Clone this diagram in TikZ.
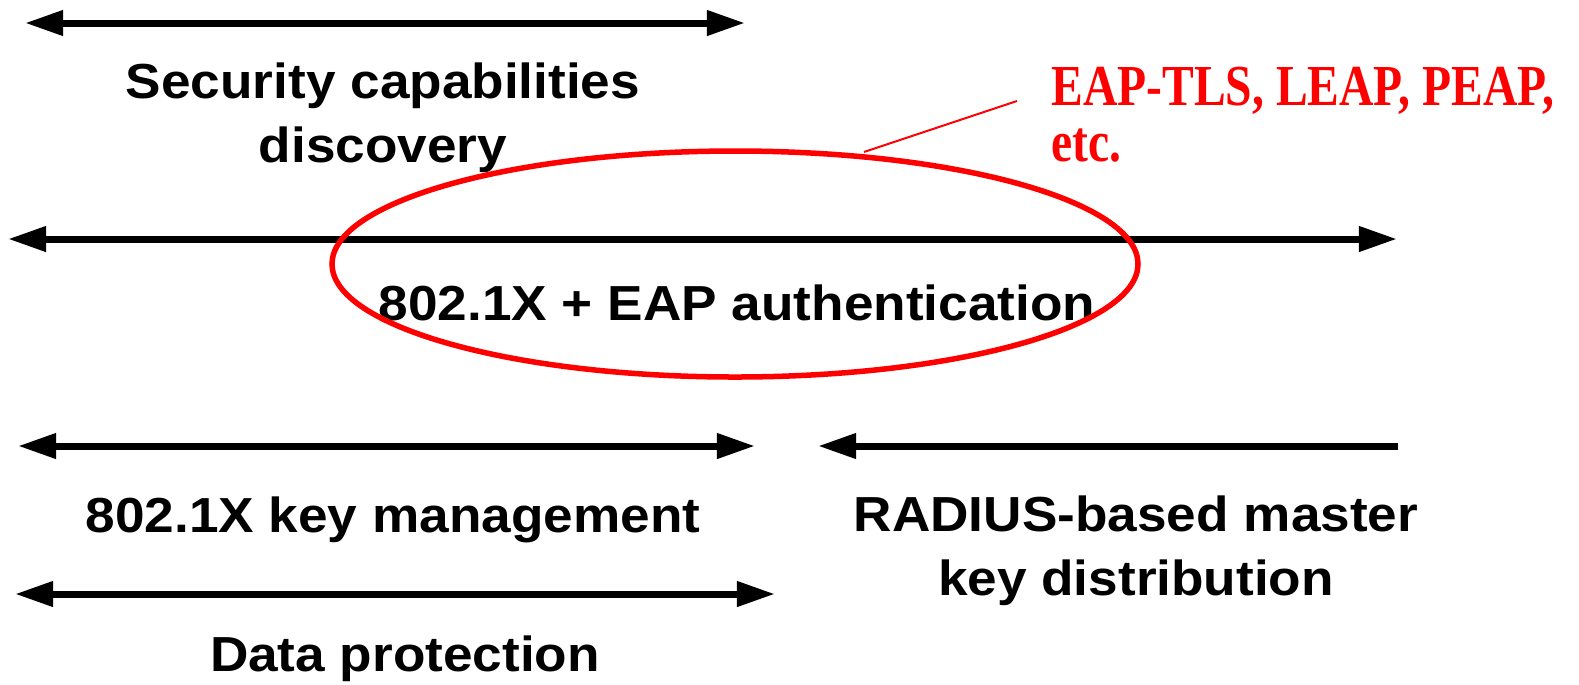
\documentclass[tikz,border=0pt]{standalone}
\usepackage{fontspec}
\setmainfont{Liberation Sans}
\newfontfamily\stagefont{Liberation Sans}[FakeStretch=1.08]
\newfontfamily\notefont{Liberation Serif}[FakeStretch=0.82]
\usetikzlibrary{arrows.meta}

\begin{document}
\begin{tikzpicture}[x=0.01cm, y=-0.01cm,
    >={Triangle[length=0.38cm,width=0.24cm]},
    phase/.style={line width=0.07cm},
    stagetext/.style={font={\stagefont\bfseries\fontsize{14}{18.2}\selectfont}, align=center, anchor=base},
    notetext/.style={text=red, font={\notefont\bfseries\fontsize{16.5}{15.9}\selectfont}, align=left, anchor=base west}]

    \useasboundingbox (0,0) rectangle (1579,684);

    % phase arrows
    \coordinate (disc w) at (25,23);   \coordinate (disc e) at (745,23);
    \coordinate (auth w) at (8,239);   \coordinate (auth e) at (1397,239);
    \coordinate (keys w) at (18,446);  \coordinate (keys e) at (755,446);
    \coordinate (radius w) at (818,446); \coordinate (radius e) at (1398,446);
    \coordinate (data w) at (15,594);  \coordinate (data e) at (775,594);

    \draw[phase, <->] (disc w) -- (disc e);
    \draw[phase, <->] (auth w) -- (auth e);
    \draw[phase, <->] (keys w) -- (keys e);
    \draw[phase, ->] (radius e) -- (radius w);
    \draw[phase, <->] (data w) -- (data e);

    \node[stagetext] (secdisc) at (383,162) {Security capabilities\\discovery};
    \node[stagetext] (eapauth) at (737,320) {802.1X + EAP authentication};
    \node[stagetext] (keymgmt) at (393,532) {802.1X key management};
    \node[stagetext] (radius) at (1136,595) {RADIUS-based master\\key distribution};
    \node[stagetext] (dataprot) at (405,671) {Data protection};

    % red callout
    \draw[red, line width=0.055cm] (735,264) ellipse [x radius=403, y radius=113];
    \node[notetext] (eapnote) at (1039,161) {EAP-TLS, LEAP, PEAP,\\etc.};
    \coordinate (calltip) at (864,152);
    \coordinate (callend) at (1017,101);
    \draw[red, line width=0.02cm] (calltip) -- (callend);

\end{tikzpicture}
\end{document}
